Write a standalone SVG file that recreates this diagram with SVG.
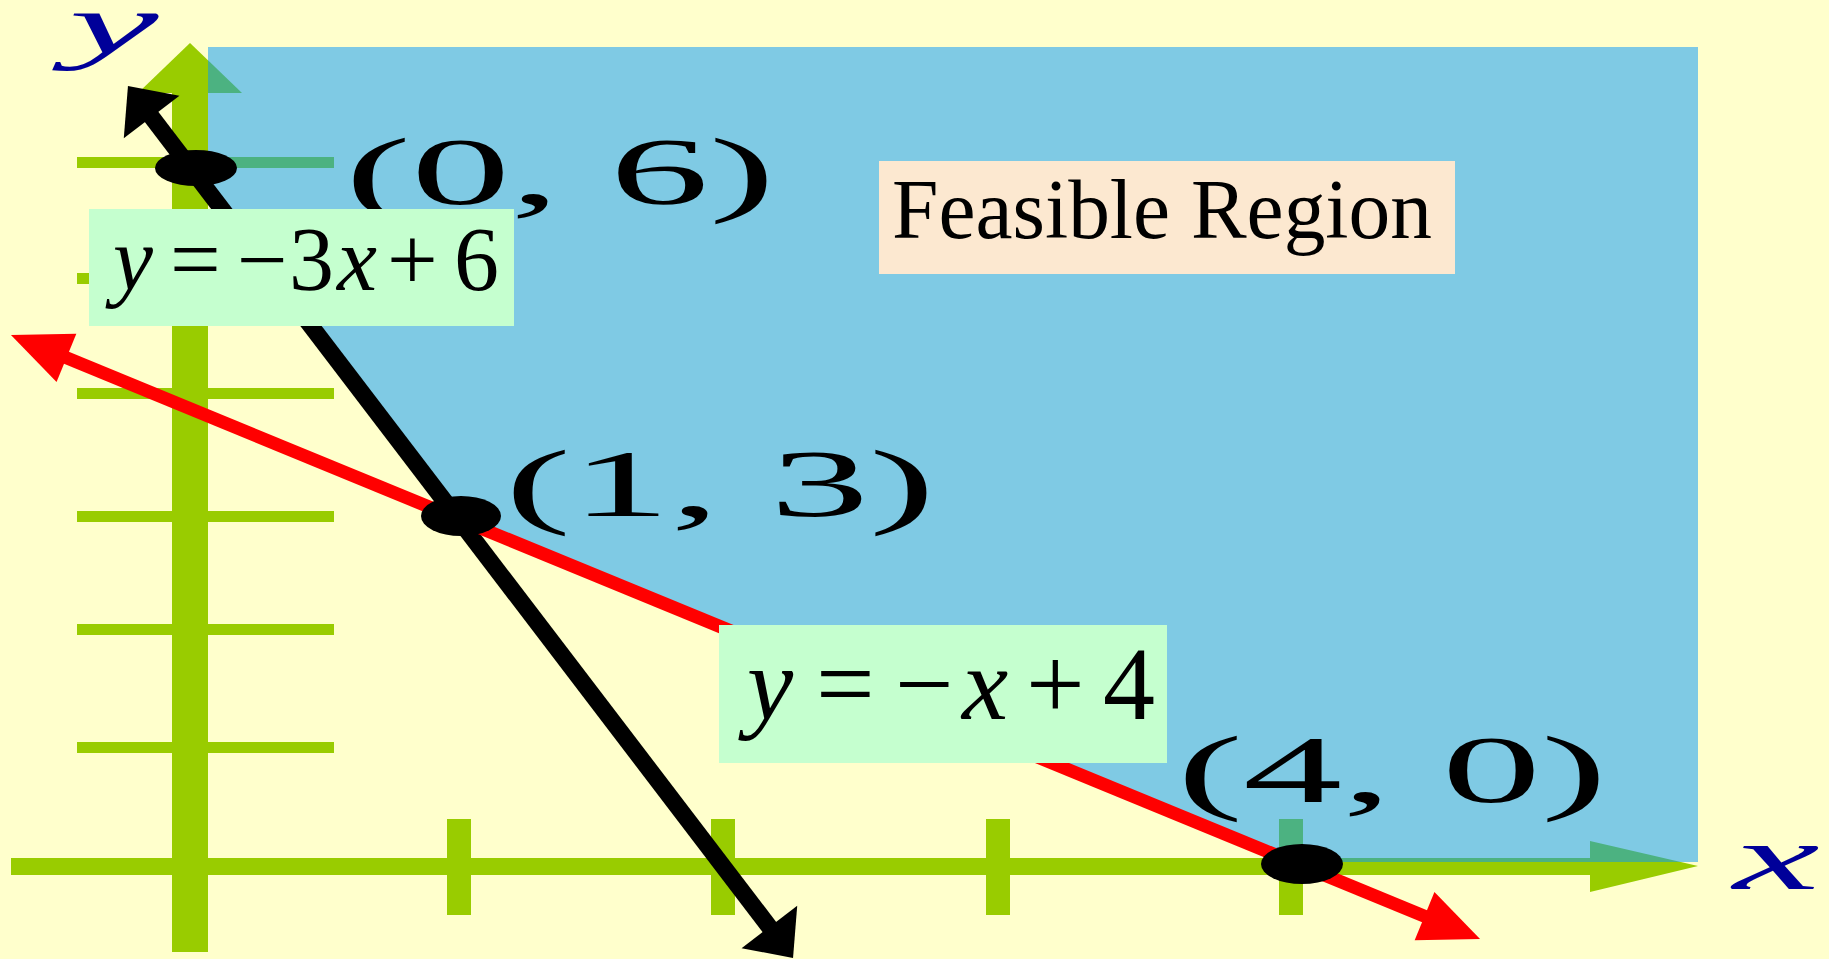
<svg xmlns="http://www.w3.org/2000/svg" xmlns:xlink="http://www.w3.org/1999/xlink" width="1829" height="959" viewBox="0 0 1829 959">
<style>
.serif{font-family:"Liberation Serif","Times New Roman",serif;fill:#000}
.it{font-style:italic}
.pt{font-size:96px}
.axlab{font-family:"Liberation Serif","Times New Roman",serif;font-style:italic;fill:#000099}
.eqbox{fill:#C5FFCF}
</style>
<defs>
<g id="axesShape">
<rect x="172" y="85" width="36" height="867"/>
<polygon points="190,43 242,93 138,93"/>
<rect x="77" y="157" width="257" height="11"/>
<rect x="77" y="273" width="257" height="11"/>
<rect x="77" y="388" width="257" height="11"/>
<rect x="77" y="511" width="257" height="11"/>
<rect x="77" y="624" width="257" height="11"/>
<rect x="77" y="742" width="257" height="11"/>
<rect x="11" y="858" width="1584" height="17"/>
<polygon points="1698,866 1590,841 1590,892"/>
<rect x="447" y="819" width="24" height="96"/>
<rect x="711" y="819" width="24" height="96"/>
<rect x="986" y="819" width="24" height="96"/>
<rect x="1279" y="819" width="24" height="96"/>
</g>
<clipPath id="blueClip">
<polygon points="208,47 1698,47 1698,862 1292.7,862 458,518.8 208,190.9"/>
</clipPath>
<marker id="ahRed" markerUnits="userSpaceOnUse" markerWidth="62" markerHeight="52" refX="2" refY="26" orient="auto-start-reverse" overflow="visible">
<path d="M0,0 L60,26 L0,52 z" fill="#FF0000"/>
</marker>
<marker id="ahBlack" markerUnits="userSpaceOnUse" markerWidth="40" markerHeight="70" refX="2" refY="35" orient="auto-start-reverse" overflow="visible">
<path d="M0,0 L39,35 L0,70 z" fill="#000"/>
</marker>
</defs>
<rect width="1829" height="959" fill="#FFFFCC"/>
<g id="axes">
<use xlink:href="#axesShape" fill="#99CC00"/>
</g>
<g id="feasible-region">
<polygon points="208,47 1698,47 1698,862 1292.7,862 458,518.8 208,190.9" fill="#7FCAE4"/>
<use xlink:href="#axesShape" fill="#4CB281" clip-path="url(#blueClip)"/>
</g>
<g id="connectors">
<line id="line-black" x1="150.4" y1="115.4" x2="770.6" y2="928.6" stroke="#000" stroke-width="17" marker-start="url(#ahBlack)" marker-end="url(#ahBlack)"/>
<line id="line-red" x1="64.6" y1="357.1" x2="1426.4" y2="916.9" stroke="#FF0000" stroke-width="13" marker-start="url(#ahRed)" marker-end="url(#ahRed)"/>
</g>
<g id="node-0-6">
<ellipse cx="196" cy="168" rx="41" ry="18" fill="#000"/>
<text class="serif pt" x="345" y="204" textLength="430" lengthAdjust="spacingAndGlyphs">(0, 6)</text>
</g>
<g id="node-1-3">
<ellipse cx="461" cy="516" rx="40" ry="20" fill="#000"/>
<text class="serif pt" x="505" y="516" textLength="430" lengthAdjust="spacingAndGlyphs">(1, 3)</text>
</g>
<g id="node-4-0">
<ellipse cx="1302" cy="864" rx="41" ry="20" fill="#000"/>
<text class="serif pt" x="1177" y="802" textLength="430" lengthAdjust="spacingAndGlyphs">(4, 0)</text>
</g>
<g id="label-feasible">
<rect x="879" y="161" width="576" height="113" fill="#FCE8D0"/>
<text class="serif" x="892" y="238" font-size="85" textLength="540" lengthAdjust="spacingAndGlyphs">Feasible Region</text>
</g>
<g id="label-eq1">
<rect class="eqbox" x="89" y="209" width="425" height="117"/>
<text class="serif" y="290" font-size="90"><tspan class="it" x="113">y</tspan><tspan x="170">=</tspan><tspan x="237">−</tspan><tspan x="289">3</tspan><tspan class="it" x="337">x</tspan><tspan x="387">+</tspan><tspan x="454">6</tspan></text>
</g>
<g id="label-eq2">
<rect class="eqbox" x="719" y="625" width="448" height="138"/>
<text class="serif" y="719" font-size="104"><tspan class="it" x="747">y</tspan><tspan x="816">=</tspan><tspan x="895">−</tspan><tspan class="it" x="962">x</tspan><tspan x="1026">+</tspan><tspan x="1103">4</tspan></text>
</g>
<g id="axis-label-y">
<text class="axlab" transform="translate(69,53) scale(2.4,1)" x="0" y="0" font-size="84">y</text>
</g>
<g id="axis-label-x">
<text class="axlab" transform="translate(1733,889) scale(2.1,1)" x="0" y="0" font-size="93">x</text>
</g>
</svg>
